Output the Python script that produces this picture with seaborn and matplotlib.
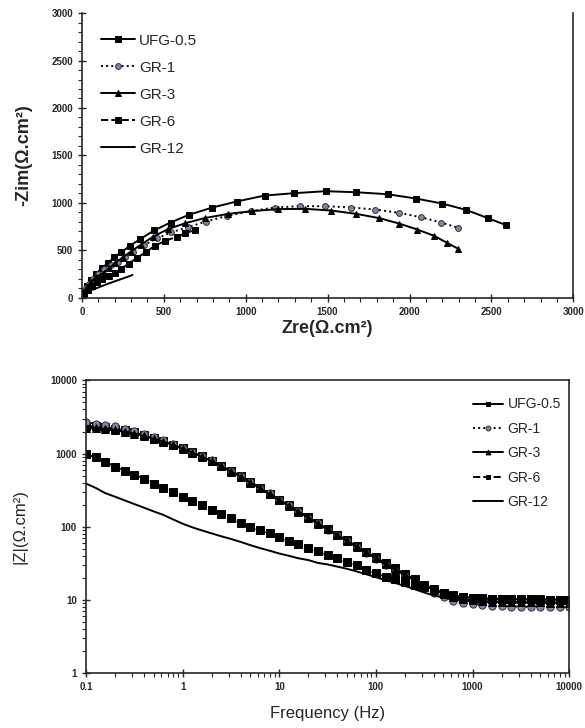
import numpy as np
import pandas as pd
import matplotlib
matplotlib.use("Agg")
import matplotlib.pyplot as plt
from matplotlib.ticker import FixedLocator, LogLocator, NullFormatter, MultipleLocator
import seaborn as sns

# ---- Nyquist data (Zre, -Zim) in ohm.cm2 ----
ufg_zre = [0, 12, 32, 56, 87, 121, 158, 198, 238, 293, 356, 440, 541, 653, 796, 944,
           1115, 1295, 1489, 1675, 1867, 2038, 2200, 2345, 2479, 2590]
ufg_zim = [0, 66, 126, 189, 253, 312, 365, 428, 477, 547, 618, 709, 793, 874, 951, 1014,
           1077, 1102, 1123, 1112, 1091, 1046, 993, 926, 839, 765]

gr1_zre = [0, 10, 25, 45, 70, 100, 135, 175, 218, 262, 309, 380, 460, 541, 650, 756,
           887, 1034, 1176, 1331, 1487, 1644, 1791, 1937, 2069, 2194, 2297]
gr1_zim = [0, 50, 100, 150, 200, 255, 300, 345, 382, 430, 487, 558, 625, 688, 745, 803,
           863, 913, 951, 965, 965, 951, 930, 895, 849, 793, 737]

gr3_zre = [0, 12, 30, 55, 85, 133, 168, 202, 248, 299, 359, 436, 525, 632, 750, 893,
           1038, 1196, 1365, 1523, 1675, 1816, 1937, 2048, 2150, 2226, 2297]
gr3_zim = [0, 58, 112, 165, 215, 265, 312, 365, 424, 487, 558, 645, 723, 786, 840, 884,
           913, 934, 937, 919, 884, 839, 782, 719, 653, 582, 516]

gr6_zre = [0, 15, 35, 60, 90, 125, 168, 200, 238, 285, 335, 390, 444, 510, 582, 630, 688]
gr6_zim = [0, 40, 85, 125, 165, 200, 224, 260, 302, 360, 418, 480, 547, 600, 645, 680, 712]

gr12_zre = [0, 8, 20, 40, 70, 110, 160, 220, 270, 309]
gr12_zim = [0, 25, 45, 65, 88, 115, 148, 185, 215, 240]

# ---- Bode data: frequency (Hz) and |Z| (ohm.cm2) ----
freq = [0.1, 0.126, 0.158, 0.2, 0.251, 0.316, 0.398, 0.501, 0.631, 0.794,
        1, 1.26, 1.58, 2, 2.51, 3.16, 3.98, 5.01, 6.31, 7.94,
        10, 12.6, 15.8, 20, 25.1, 31.6, 39.8, 50.1, 63.1, 79.4,
        100, 126, 158, 200, 251, 316, 398, 501, 631, 794,
        1000, 1259, 1585, 1995, 2512, 3162, 3981, 5012, 6310, 7943, 10000]

ufg_mod = [2399, 2344, 2291, 2188, 2089, 1950, 1778, 1622, 1479, 1318,
           1175, 1047, 912, 794, 676, 575, 490, 407, 339, 282,
           234, 195, 162, 135, 112, 93, 78, 65, 54, 45,
           38, 31.6, 26.9, 22.4, 19.1, 16.2, 14.1, 12.6, 11.7, 11.0,
           10.7, 10.5, 10.4, 10.3, 10.3, 10.2, 10.2, 10.2, 10.1, 10.1, 10.1]
gr1_mod = [2692, 2570, 2455, 2344, 2188, 2042, 1862, 1679, 1514, 1349,
           1202, 1059, 923, 804, 684, 582, 495, 412, 343, 285,
           234, 195, 162, 133, 111, 91, 76, 63, 52, 44,
           36, 30, 25, 21, 17.4, 14.8, 12.6, 11.0, 9.8, 9.1,
           8.7, 8.5, 8.3, 8.2, 8.1, 8.1, 8.0, 8.0, 8.0, 7.9, 7.9]
gr3_mod = [2250, 2210, 2150, 2070, 1990, 1870, 1730, 1590, 1450, 1300,
           1160, 1030, 900, 785, 668, 568, 484, 402, 335, 278,
           231, 192, 160, 133, 110, 92, 77, 64, 53, 44.5,
           37, 31, 26, 21.8, 18.5, 15.8, 13.7, 12.1, 11.0, 10.3,
           9.9, 9.7, 9.5, 9.4, 9.4, 9.3, 9.3, 9.3, 9.2, 9.2, 9.2]
gr6_mod = [977, 891, 776, 661, 575, 513, 447, 389, 339, 295,
           257, 224, 195, 170, 151, 132, 112, 98, 89, 81,
           72, 63, 58, 51, 46, 41, 37, 33, 30, 26,
           23, 20.7, 19.1, 17.6, 16.2, 15.0, 13.8, 12.6, 11.6, 11.0,
           10.6, 10.4, 10.3, 10.3, 10.2, 10.2, 10.2, 10.1, 10.1, 10.1, 10.1]
gr12_mod = [389, 339, 288, 257, 229, 204, 182, 162, 145, 126,
            110, 98, 89, 81, 74, 68, 62, 56, 51, 47,
            43, 40, 37, 35, 32, 30.5, 28.5, 26.6, 24.5, 22.4,
            20.4, 18.6, 17.0, 15.5, 14.0, 12.6, 11.5, 10.7, 10.1, 9.8,
            9.5, 9.4, 9.3, 9.3, 9.2, 9.2, 9.2, 9.1, 9.1, 9.1, 9.1]

labels = ['UFG-0.5', 'GR-1', 'GR-3', 'GR-6', 'GR-12']
nyq = [(ufg_zre, ufg_zim), (gr1_zre, gr1_zim), (gr3_zre, gr3_zim),
       (gr6_zre, gr6_zim), (gr12_zre, gr12_zim)]
bode = [ufg_mod, gr1_mod, gr3_mod, gr6_mod, gr12_mod]

purple = '#8c7fa8'
styles = [
    dict(marker='s', linestyle='-', markerfacecolor='black', markeredgecolor='black'),
    dict(marker='o', linestyle=':', markerfacecolor=purple, markeredgecolor='#303030'),
    dict(marker='^', linestyle='-', markerfacecolor='black', markeredgecolor='black'),
    dict(marker='s', linestyle='--', markerfacecolor='black', markeredgecolor='black'),
    dict(marker=None, linestyle='-'),
]

sns.set_style('ticks')
plt.rcParams['font.family'] = ['Liberation Sans', 'DejaVu Sans']

fig = plt.figure(figsize=(5.85, 7.28), dpi=100)
ax1 = fig.add_axes([0.140, 0.591, 0.840, 0.391])
ax2 = fig.add_axes([0.147, 0.0755, 0.826, 0.402])

# =========================================================
# 1. NYQUIST
# =========================================================
for lab, (zr, zi), st in zip(labels, nyq, styles):
    df = pd.DataFrame({'Zre': zr, 'Zim': zi})
    sns.lineplot(data=df, x='Zre', y='Zim', ax=ax1, color='black', lw=1.4,
                 markersize=4.2, markeredgewidth=0.7, sort=False, label=lab, **st)

ax1.set_xlim(0, 3000)
ax1.set_ylim(0, 3000)
ax1.xaxis.set_major_locator(MultipleLocator(500))
ax1.xaxis.set_minor_locator(MultipleLocator(100))
ax1.yaxis.set_major_locator(MultipleLocator(500))
ax1.yaxis.set_minor_locator(MultipleLocator(100))
ax1.spines['top'].set_visible(False)
for s in ['left', 'bottom', 'right']:
    ax1.spines[s].set_linewidth(1.2)
ax1.tick_params(which='major', direction='inout', length=6, width=1, labelsize=7)
ax1.tick_params(which='minor', direction='out', length=3, width=0.8)
for t in ax1.get_xticklabels() + ax1.get_yticklabels():
    t.set_fontweight('bold')
ax1.set_xlabel('Zre(Ω.cm²)', fontsize=13, fontweight='bold', labelpad=2)
ax1.set_ylabel('-Zim(Ω.cm²)', fontsize=13, fontweight='bold', labelpad=14)
ax1.legend(loc='upper left', bbox_to_anchor=(0.02, 0.96), frameon=False, fontsize=11,
           handlelength=2.2, handletextpad=0.3, labelspacing=0.85, borderaxespad=0.2)

# =========================================================
# 2. BODE |Z|
# =========================================================
for lab, mod, st in zip(labels, bode, styles):
    df = pd.DataFrame({'f': freq, 'Z': mod})
    sns.lineplot(data=df, x='f', y='Z', ax=ax2, color='black', lw=1.4,
                 markersize=5.2, markeredgewidth=0.7, label=lab, **st)

ax2.set_xscale('log')
ax2.set_yscale('log')
ax2.set_xlim(0.1, 10000)
ax2.set_ylim(1, 10000)
xt = [0.1, 1, 10, 100, 1000, 10000]
yt = [1, 10, 100, 1000, 10000]
ax2.xaxis.set_major_locator(FixedLocator(xt))
ax2.yaxis.set_major_locator(FixedLocator(yt))
ax2.set_xticklabels(['0.1', '1', '10', '100', '1000', '10000'])
ax2.set_yticklabels(['1', '10', '100', '1000', '10000'])
ax2.xaxis.set_minor_locator(LogLocator(base=10, subs=np.arange(2, 10)))
ax2.yaxis.set_minor_locator(LogLocator(base=10, subs=np.arange(2, 10)))
ax2.xaxis.set_minor_formatter(NullFormatter())
ax2.yaxis.set_minor_formatter(NullFormatter())
for s in ax2.spines.values():
    s.set_linewidth(1.2)
ax2.tick_params(which='major', direction='inout', length=6, width=1, labelsize=7)
ax2.tick_params(which='minor', direction='out', length=3, width=0.8)
for t in ax2.get_xticklabels() + ax2.get_yticklabels():
    t.set_fontweight('bold')
ax2.set_xlabel('Frequency (Hz)', fontsize=12, labelpad=10)
ax2.set_ylabel('|Z|(Ω.cm²)', fontsize=12, labelpad=16)
leg = ax2.legend(loc='upper right', bbox_to_anchor=(1.0, 0.97), frameon=False, fontsize=10,
                 handlelength=2.2, handletextpad=0.3, labelspacing=0.75, borderaxespad=0.2)
for h in leg.legend_handles:
    h.set_markersize(3.5)

plt.savefig('out.png', dpi=100)
plt.close()
